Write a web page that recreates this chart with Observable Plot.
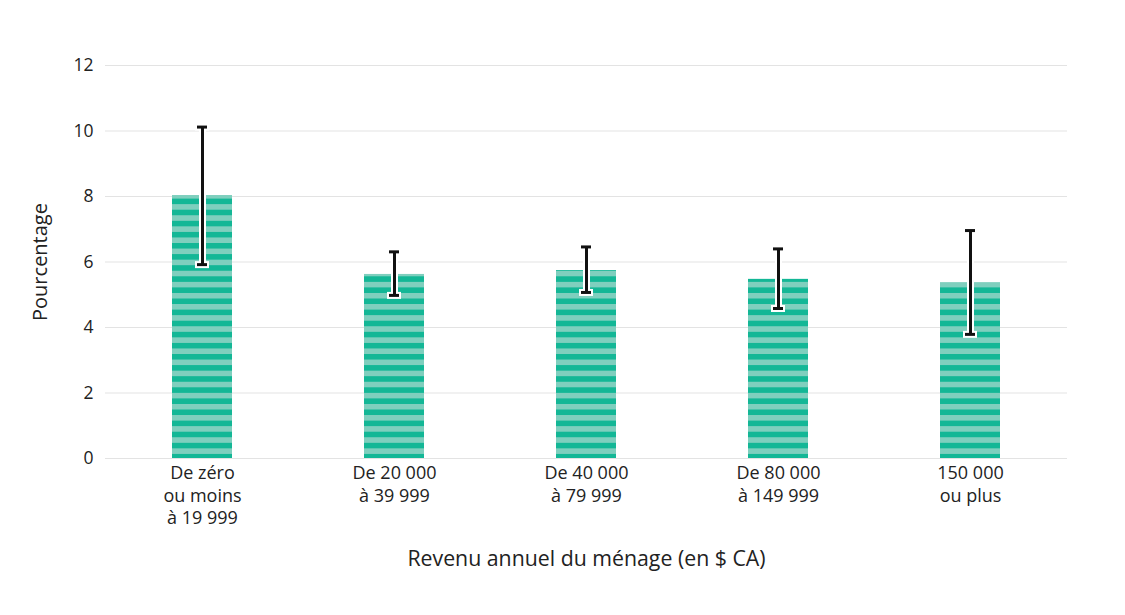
<!DOCTYPE html>
<html>
<head>
<meta charset="utf-8">
<script src="https://cdn.jsdelivr.net/npm/d3@7"></script>
<script src="https://cdn.jsdelivr.net/npm/@observablehq/plot@0.6"></script>
<style>
  html, body { margin: 0; padding: 0; background: #fff; }
  #chart { width: 1125px; height: 615px; }
</style>
</head>
<body>
<div id="chart"></div>
<script>
const categories = ["De zéro\nou moins\nà 19 999", "De 20 000\nà 39 999", "De 40 000\nà 79 999", "De 80 000\nà 149 999", "150 000\nou plus"];
const values = [8.03, 5.62, 5.74, 5.47, 5.37];
const lower = [5.92, 4.98, 5.07, 4.58, 3.79];
const upper = [10.12, 6.31, 6.46, 6.40, 6.96];
const yTicks = [0, 2, 4, 6, 8, 10, 12];

const data = categories.map((c, i) => ({cat: c, value: values[i], lo: lower[i], hi: upper[i]}));

const font = "'Open Sans', Lato, sans-serif";

const chart = Plot.plot({
  width: 1125,
  height: 615,
  marginLeft: 105,
  marginRight: 58,
  marginTop: 65,
  marginBottom: 157,
  style: {fontFamily: font, fontSize: "16px", color: "#222", background: "#fff"},
  x: {domain: categories, paddingInner: 0.688, paddingOuter: 0.343, label: null},
  y: {domain: [0, 12], ticks: yTicks, label: null},
  marks: [
    Plot.gridY(yTicks, {stroke: "#e3e3e3", strokeOpacity: 1, strokeWidth: 1}),
    Plot.axisY(yTicks, {tickSize: 0, tickPadding: 12, fontSize: 17.5, fill: "#222", label: null}),
    Plot.axisX({tickSize: 0, tickPadding: 5, fontSize: 18, fill: "#222", lineHeight: 1.25, label: null}),
    Plot.barY(data, {x: "cat", y: "value", fill: "url(#stripes)"}),
    Plot.ruleX(data, {x: "cat", y1: "lo", y2: "hi", stroke: "#fff", strokeWidth: 7}),
    Plot.tickY(data, {x: "cat", y: "hi", stroke: "#fff", strokeWidth: 7, insetLeft: 23, insetRight: 23}),
    Plot.tickY(data, {x: "cat", y: "lo", stroke: "#fff", strokeWidth: 7, insetLeft: 23, insetRight: 23}),
    Plot.ruleX(data, {x: "cat", y1: "lo", y2: "hi", stroke: "#111", strokeWidth: 3}),
    Plot.tickY(data, {x: "cat", y: "hi", stroke: "#111", strokeWidth: 3, insetLeft: 25, insetRight: 25}),
    Plot.tickY(data, {x: "cat", y: "lo", stroke: "#111", strokeWidth: 3, insetLeft: 25, insetRight: 25}),
    Plot.text(["Revenu annuel du ménage (en $ CA)"], {frameAnchor: "bottom", dy: 107, fontSize: 21.3, fill: "#222"}),
    Plot.text(["Pourcentage"], {frameAnchor: "left", textAnchor: "middle", dx: -65, rotate: -90, fontSize: 20, fill: "#222"})
  ]
});

// striped fill pattern aligned to the y scale
const y0 = chart.scale("y").apply(0);
const period = 11.1;
const svg = d3.select(chart);
const defs = svg.insert("defs", ":first-child");
const pat = defs.append("pattern")
  .attr("id", "stripes")
  .attr("patternUnits", "userSpaceOnUse")
  .attr("x", 0)
  .attr("y", y0 - 4.1)
  .attr("width", 20)
  .attr("height", period);
pat.append("rect").attr("x", 0).attr("y", 0).attr("width", 20).attr("height", period).attr("fill", "#7fcfbe");
pat.append("rect").attr("x", 0).attr("y", 0).attr("width", 20).attr("height", period / 2).attr("fill", "#13b796");

document.getElementById("chart").appendChild(chart);
</script>
</body>
</html>
